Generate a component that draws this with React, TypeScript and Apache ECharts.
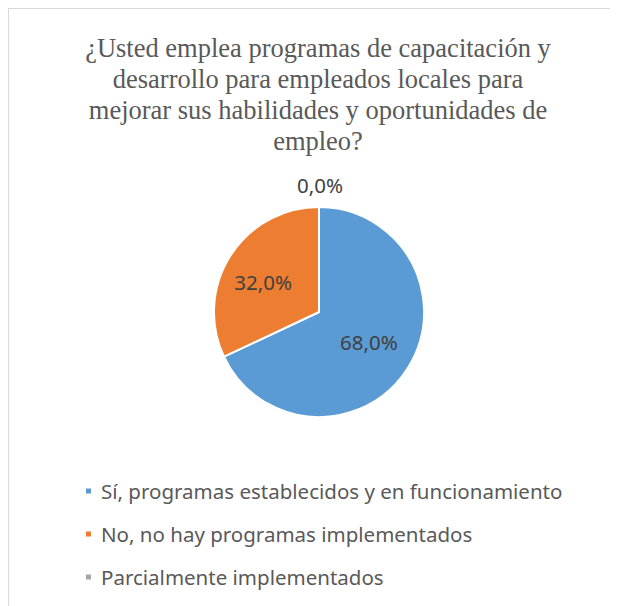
import React, { useEffect, useRef } from "react";
import * as echarts from "echarts";

const titleLines = [
  "¿Usted emplea programas de capacitación y",
  "desarrollo para empleados locales para",
  "mejorar sus habilidades y oportunidades de",
  "empleo?",
];
const categories = [
  "Sí, programas establecidos y en funcionamiento",
  "No, no hay programas implementados",
  "Parcialmente implementados",
];
const values = [68, 32, 0];
const colors = ["#5B9BD5", "#ED7D31", "#A5A5A5"];

export default function App() {
  const ref = useRef<HTMLDivElement>(null);
  useEffect(() => {
    if (!ref.current) return;
    const chart = echarts.init(ref.current, null, { renderer: "svg" });
    const labelPads = [
      [20, 0, 0, 6],
      [0, 18, 2, 0],
      [0, 0, 0, 0],
    ];
    chart.setOption({
      animation: false,
      backgroundColor: "#ffffff",
      textStyle: { fontFamily: "Noto Sans" },
      title: {
        text: titleLines.join("\n"),
        left: 309,
        top: 23.5,
        padding: 0,
        textAlign: "center",
        textStyle: {
          fontFamily: "Liberation Serif",
          fontSize: 26.5,
          fontWeight: "normal",
          color: "#595959",
          lineHeight: 31,
        },
      },
      legend: {
        orient: "vertical",
        left: 75,
        top: 471,
        padding: 0,
        icon: "rect",
        itemWidth: 7,
        itemHeight: 7,
        itemGap: 21,
        data: categories,
        textStyle: {
          fontFamily: "Noto Sans",
          fontSize: 20.5,
          color: "#595959",
          lineHeight: 22,
          padding: [0, 0, 0, 4],
        },
      },
      series: [
        {
          type: "pie",
          center: [310, 303],
          radius: 105,
          startAngle: 90,
          clockwise: true,
          avoidLabelOverlap: false,
          itemStyle: { borderColor: "#ffffff", borderWidth: 2 },
          data: categories.map((name, i) => ({
            name,
            value: values[i],
            itemStyle: { color: colors[i] },
            label:
              i < 2
                ? { position: "inside", padding: labelPads[i] }
                : { position: "outside", distanceToLabelLine: 0 },
            labelLine: i < 2 ? { show: false } : { show: false, length: 22, length2: -22 },
          })),
          label: {
            fontFamily: "Noto Sans",
            fontSize: 20.5,
            color: "#404040",
            formatter: (p: any) => p.value.toFixed(1).replace(".", ",") + "%",
          },
        },
      ],
    });
    return () => chart.dispose();
  }, []);
  return (
    <div
      ref={ref}
      style={{
        width: 609,
        height: 597,
        borderTop: "1px solid #D9D9D9",
        borderLeft: "1px solid #D9D9D9",
      }}
    />
  );
}
